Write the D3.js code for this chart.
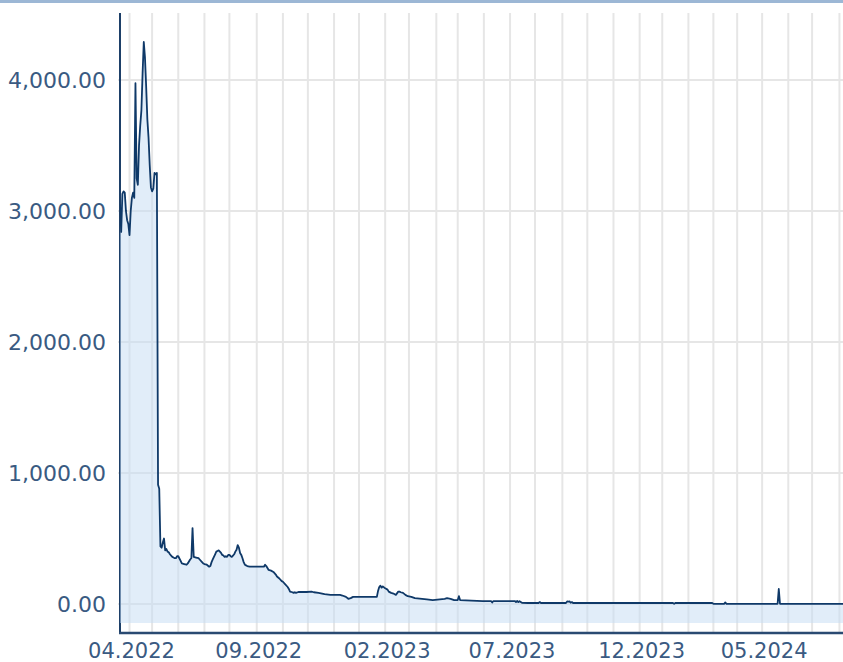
<!DOCTYPE html>
<html>
<head>
<meta charset="utf-8">
<script src="https://cdn.jsdelivr.net/npm/d3@7"></script>
<style>
  body { margin: 0; background: #fff; }
  svg { display: block; }
</style>
</head>
<body>
<div id="chart"></div>
<script>
const FRAME_WIDTH = 843;
const FRAME_HEIGHT = 662;
const MARGINS = {left: 120, right: 0, top: 13, bottom: 29};

// trading dates and closing values
const dates = [
  "2022-03-22","2022-03-23","2022-03-24","2022-03-25","2022-03-28","2022-03-29","2022-03-30","2022-03-31",
  "2022-04-01","2022-04-04","2022-04-05","2022-04-06","2022-04-07","2022-04-08","2022-04-11","2022-04-12",
  "2022-04-13","2022-04-14","2022-04-19","2022-04-20","2022-04-21","2022-04-22","2022-04-25","2022-04-26",
  "2022-04-27","2022-04-28","2022-04-29","2022-05-02","2022-05-03","2022-05-04","2022-05-05","2022-05-06",
  "2022-05-09","2022-05-10","2022-05-11","2022-05-12","2022-05-13","2022-05-16","2022-05-17","2022-05-18",
  "2022-05-19","2022-05-20","2022-05-23","2022-05-24","2022-05-25","2022-05-26","2022-05-27","2022-05-30",
  "2022-05-31","2022-06-01","2022-06-03","2022-06-06","2022-06-08","2022-06-10","2022-06-13","2022-06-15",
  "2022-06-16","2022-06-17","2022-06-20","2022-06-22","2022-06-24","2022-06-27","2022-06-29","2022-06-30",
  "2022-07-01","2022-07-05","2022-07-07","2022-07-08","2022-07-11","2022-07-12","2022-07-14","2022-07-15",
  "2022-07-18","2022-07-19","2022-07-20","2022-07-21","2022-07-22","2022-07-25","2022-07-26","2022-07-27",
  "2022-07-28","2022-07-29","2022-08-01","2022-08-02","2022-08-03","2022-08-04","2022-08-05","2022-08-08",
  "2022-08-09","2022-08-10","2022-08-11","2022-08-12","2022-08-15","2022-08-16","2022-08-17","2022-08-18",
  "2022-08-19","2022-08-22","2022-08-24","2022-08-31","2022-09-09","2022-09-12","2022-09-13","2022-09-14",
  "2022-09-15","2022-09-19","2022-09-21","2022-09-23","2022-09-26","2022-09-28","2022-09-30","2022-10-03",
  "2022-10-05","2022-10-07","2022-10-10","2022-10-11","2022-10-13","2022-10-14","2022-10-17","2022-10-18",
  "2022-10-20","2022-10-31","2022-11-04","2022-11-08","2022-11-14","2022-11-17","2022-11-21","2022-11-28",
  "2022-12-08","2022-12-12","2022-12-15","2022-12-19","2022-12-21","2022-12-23","2023-01-23","2023-01-24",
  "2023-01-25","2023-01-26","2023-01-27","2023-01-30","2023-02-01","2023-02-03","2023-02-06","2023-02-08",
  "2023-02-10","2023-02-13","2023-02-14","2023-02-16","2023-02-17","2023-02-20","2023-02-22","2023-02-24",
  "2023-02-28","2023-03-03","2023-03-08","2023-03-22","2023-03-29","2023-04-14","2023-04-18","2023-04-21",
  "2023-04-26","2023-05-02","2023-05-03","2023-05-04","2023-05-31","2023-06-09","2023-06-12","2023-06-13",
  "2023-07-07","2023-07-10","2023-07-11","2023-07-12","2023-07-13","2023-07-17","2023-07-24","2023-08-04",
  "2023-08-07","2023-08-08","2023-09-06","2023-09-07","2023-09-08","2023-09-11","2023-09-12","2023-09-13",
  "2023-09-14","2024-01-15","2024-01-16","2024-01-17","2024-02-29","2024-03-01","2024-03-14","2024-03-15",
  "2024-03-18","2024-05-21","2024-05-22","2024-05-23","2024-08-06"
];
const values = [
  3050, 2840, 3130, 3150, 3140, 3000, 2930, 2900,
  2815, 3000, 3100, 3140, 3100, 3975, 3250, 3200,
  3500, 3650, 3770, 4050, 4290, 4170, 3950, 3700,
  3560, 3350, 3180, 3150, 3170, 3290, 3280, 3290,
  910, 880, 440, 430, 470, 500, 410, 420,
  400, 395, 380, 370, 360, 355, 350, 350,
  365, 365, 330, 310, 305, 300, 310, 340,
  350, 580, 360, 355, 350, 340, 320, 310,
  305, 300, 285, 290, 320, 340, 380, 400,
  405, 410, 400, 390, 375, 370, 360, 365,
  360, 375, 375, 365, 360, 370, 380, 400,
  415, 450, 430, 390, 375, 350, 320, 300,
  295, 290, 285, 285, 285, 300, 290, 275,
  260, 255, 245, 225, 210, 195, 175, 170,
  150, 130, 115, 95, 90, 85, 90, 85,
  92, 92, 95, 90, 85, 80, 75, 70,
  70, 65, 55, 40, 45, 55, 55, 100,
  130, 140, 125, 135, 120, 110, 95, 85,
  80, 75, 70, 95, 95, 90, 85, 70,
  60, 55, 45, 35, 30, 40, 45, 40,
  30, 30, 60, 30, 23, 23, 12, 23,
  23, 15, 23, 15, 22, 10, 8, 8,
  15, 8, 8, 20, 18, 20, 10, 15,
  8, 8, 2, 8, 8, 2, 2, 12,
  2, 2, 115, 2, 2
];

// exchange holidays on weekdays
const holidays = [
  "2022-04-15","2022-04-18","2022-12-26",
  "2023-04-07","2023-04-10","2023-05-01","2023-12-25","2023-12-26",
  "2024-01-01","2024-03-29","2024-04-01","2024-05-01"
];

const yTicks = [0, 1000, 2000, 3000, 4000];
const xTickLabels = ["04.2022","09.2022","02.2023","07.2023","12.2023","05.2024"];
const areaFloor = -145;

const parse = d3.timeParse("%Y-%m-%d");
const fmtDay = d3.timeFormat("%Y-%m-%d");
const fmtMonth = d3.timeFormat("%m.%Y");

const data = dates.map((d, i) => ({date: parse(d), value: values[i]}));
const first = data[0].date;
const last = data[data.length - 1].date;

// trading day calendar, x runs on trading-day index
const holidaySet = new Set(holidays);
const tradingDays = d3.timeDay.range(first, d3.timeDay.offset(last, 1))
  .filter(d => d.getDay() % 6 !== 0 && !holidaySet.has(fmtDay(d)));
const bisect = d3.bisector(d => d).left;
const dayIndex = (d) => bisect(tradingDays, d);

const xScale = d3.scaleLinear()
  .domain([0, tradingDays.length - 1])
  .range([MARGINS.left, FRAME_WIDTH - MARGINS.right]);

const yScale = d3.scaleLinear()
  .domain([-221, 4511])
  .range([FRAME_HEIGHT - MARGINS.bottom, MARGINS.top]);

const svg = d3.select("#chart")
  .append("svg")
    .attr("width", FRAME_WIDTH)
    .attr("height", FRAME_HEIGHT);

// top frame strip
svg.append("rect")
  .attr("x", 0).attr("y", 0)
  .attr("width", FRAME_WIDTH).attr("height", 3)
  .attr("fill", "#9cb7d5");

const plotTop = MARGINS.top;
const plotBottom = FRAME_HEIGHT - MARGINS.bottom;

// month gridlines at first trading day of every month
const months = d3.timeMonth.range(d3.timeMonth.ceil(first), last);
const monthTicks = months.map(m => ({month: m, idx: dayIndex(m)}));

svg.append("g")
  .selectAll("line")
  .data(monthTicks)
  .enter()
  .append("line")
    .attr("x1", d => xScale(d.idx)).attr("x2", d => xScale(d.idx))
    .attr("y1", plotTop).attr("y2", plotBottom)
    .attr("stroke", "#e6e6e6")
    .attr("stroke-width", 2);

svg.append("g")
  .selectAll("line")
  .data(yTicks)
  .enter()
  .append("line")
    .attr("x1", MARGINS.left - 2).attr("x2", FRAME_WIDTH)
    .attr("y1", d => yScale(d)).attr("y2", d => yScale(d))
    .attr("stroke", "#e6e6e6")
    .attr("stroke-width", 2);

// y axis line
svg.append("line")
  .attr("x1", MARGINS.left).attr("x2", MARGINS.left)
  .attr("y1", plotTop).attr("y2", plotBottom)
  .attr("stroke", "#1d3f68")
  .attr("stroke-width", 2);

svg.append("clipPath").attr("id", "plot-clip")
  .append("rect")
    .attr("x", MARGINS.left).attr("y", plotTop)
    .attr("width", FRAME_WIDTH - MARGINS.left)
    .attr("height", plotBottom - plotTop);

const area = d3.area()
  .x(d => xScale(dayIndex(d.date)))
  .y0(yScale(areaFloor))
  .y1(d => yScale(d.value));

const line = d3.line()
  .x(d => xScale(dayIndex(d.date)))
  .y(d => yScale(d.value));

svg.append("path")
  .datum(data)
  .attr("clip-path", "url(#plot-clip)")
  .attr("d", area)
  .attr("fill", "#c4dcf3")
  .attr("fill-opacity", 0.5);

svg.append("path")
  .datum(data)
  .attr("clip-path", "url(#plot-clip)")
  .attr("d", line)
  .attr("fill", "none")
  .attr("stroke", "#0f3968")
  .attr("stroke-width", 1.8)
  .attr("stroke-linejoin", "round");

// x axis line
svg.append("line")
  .attr("x1", MARGINS.left - 1).attr("x2", FRAME_WIDTH)
  .attr("y1", plotBottom).attr("y2", plotBottom)
  .attr("stroke", "#2a4a72")
  .attr("stroke-width", 2.5);

// y tick labels
const fmtY = d3.format(",.2f");
svg.append("g")
  .selectAll("text")
  .data(yTicks)
  .enter()
  .append("text")
    .attr("x", MARGINS.left - 14)
    .attr("y", d => yScale(d))
    .attr("dy", "0.36em")
    .attr("text-anchor", "end")
    .attr("font-family", "'DejaVu Sans', Verdana, sans-serif")
    .attr("font-size", 22)
    .attr("fill", "#3a5a82")
    .text(d => fmtY(d));

// x tick labels every 5 months
svg.append("g")
  .selectAll("text")
  .data(monthTicks.filter(d => xTickLabels.includes(fmtMonth(d.month))))
  .enter()
  .append("text")
    .attr("x", d => xScale(d.idx) + 2)
    .attr("y", 658)
    .attr("text-anchor", "middle")
    .attr("font-family", "'DejaVu Sans', Verdana, sans-serif")
    .attr("font-size", 21)
    .attr("fill", "#3a5a82")
    .text(d => fmtMonth(d.month));
</script>
</body>
</html>
